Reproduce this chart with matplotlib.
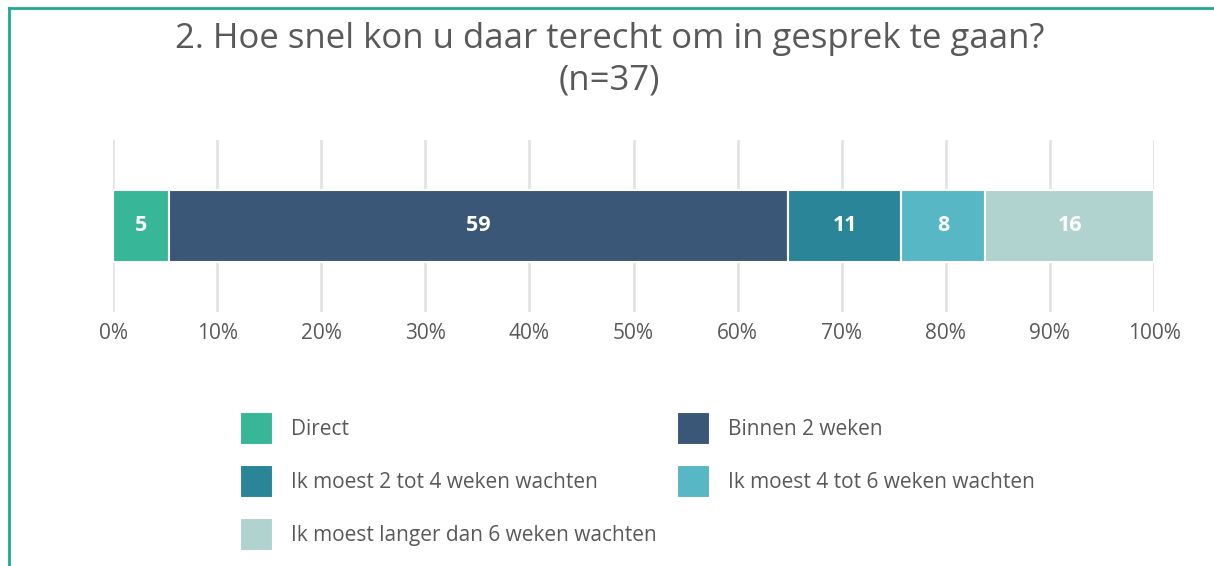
import matplotlib
matplotlib.use("Agg")
import matplotlib.pyplot as plt
from matplotlib.lines import Line2D

plt.rcParams['font.family'] = ['Open Sans', 'DejaVu Sans']

# Data: answer counts out of n=37
categories = ["Direct", "Binnen 2 weken", "Ik moest 2 tot 4 weken wachten",
              "Ik moest 4 tot 6 weken wachten", "Ik moest langer dan 6 weken wachten"]
counts = [2, 22, 4, 3, 6]
colors = ["#38B698", "#3B5778", "#2A8598", "#58B7C4", "#B1D3D0"]
ticks = [0, 10, 20, 30, 40, 50, 60, 70, 80, 90, 100]
tick_labels = ["0%", "10%", "20%", "30%", "40%", "50%", "60%", "70%", "80%", "90%", "100%"]
n = sum(counts)
pct = [c / n * 100 for c in counts]

text_col = "#595959"

fig = plt.figure(figsize=(12.14, 5.66), dpi=100)
ax = fig.add_axes([0.0931, 0.4488, 0.8575, 0.3039])

left = 0
handles = []
for cat, p, col in zip(categories, pct, colors):
    b = ax.barh(0, p, left=left, height=1.0, color=col, edgecolor="white",
                linewidth=1.5, label=cat, zorder=3)
    handles.append(b)
    ax.text(left + p / 2, 0, f"{p:.0f}", ha="center", va="center",
            color="white", fontsize=15.5, fontweight="bold", zorder=4)
    left += p

ax.set_xlim(0, 100)
ax.set_ylim(-1.2, 1.2)
ax.set_xticks(ticks)
ax.set_xticklabels(tick_labels, color=text_col, fontsize=15)
ax.set_yticks([])
ax.tick_params(axis="x", length=0, pad=8)
ax.grid(axis="x", color="#E3E3E3", linewidth=2, zorder=0)
for s in ax.spines.values():
    s.set_visible(False)

fig.suptitle("2. Hoe snel kon u daar terecht om in gesprek te gaan?\n(n=37)",
             x=0.502, y=0.962, fontsize=25, color=text_col, linespacing=1.32)

# legend row-wise: reorder for column filling
order = [0, 2, 4, 1, 3]
fig.legend([handles[i] for i in order], [categories[i] for i in order],
           ncol=2, loc="upper left", bbox_to_anchor=(0.1977, 0.2725),
           frameon=False, fontsize=15, labelcolor=text_col,
           handlelength=1.59, handleheight=2.06, handletextpad=0.87,
           labelspacing=0.96, columnspacing=0.95, borderaxespad=0, borderpad=0)

# teal frame (top and left)
fig.add_artist(Line2D([0.0078, 1.0], [0.985, 0.985], transform=fig.transFigure,
                      color="#1EA996", linewidth=2))
fig.add_artist(Line2D([0.0078, 0.0078], [0.0, 0.985], transform=fig.transFigure,
                      color="#1EA996", linewidth=2))

fig.savefig("out.png", dpi=100)
